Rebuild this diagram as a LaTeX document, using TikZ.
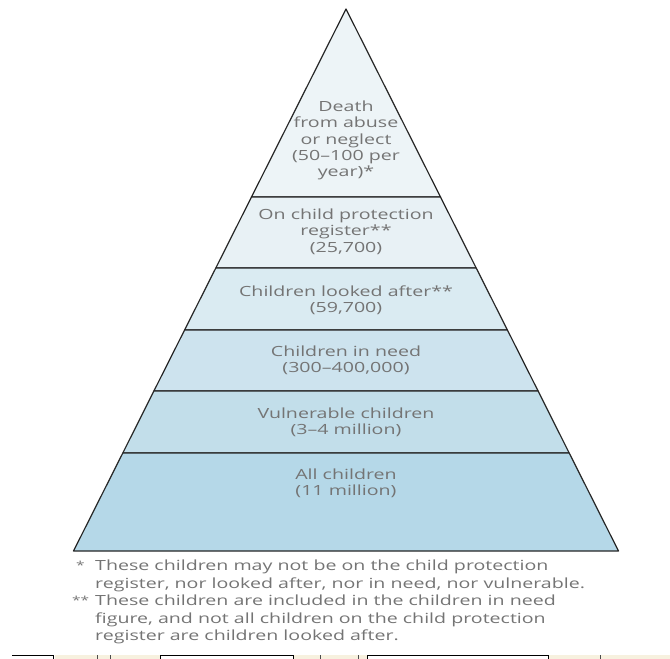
\documentclass[tikz,border=0pt]{standalone}
\usepackage{fontspec}
\setmainfont[FakeStretch=1.4]{Open Sans}
\definecolor{bandA}{HTML}{EDF4F7}
\definecolor{bandB}{HTML}{E8F1F5}
\definecolor{bandC}{HTML}{DAEBF2}
\definecolor{bandD}{HTML}{CDE3EE}
\definecolor{bandE}{HTML}{C2DEEA}
\definecolor{bandF}{HTML}{B5D8E8}
\definecolor{txtgray}{HTML}{747474}
\definecolor{stripbeige}{HTML}{F7F1DF}

\begin{document}
\begin{tikzpicture}[x=1pt,y=-1pt,
        band/.style={draw=black!85,line width=1.2pt,line join=round},
        lbl/.style={text=txtgray,align=center,inner sep=0pt,font=\fontsize{14}{16.4}\selectfont},
        note/.style={text=txtgray,align=left,inner sep=0pt,anchor=north west,font=\fontsize{14}{17.3}\selectfont},
        starmark/.style={note,font=\fontsize{11}{13}\selectfont}]
        \useasboundingbox (0,0) rectangle (670,659);

        \coordinate (A) at (346,9);
        \coordinate (L1) at (251.5,197);
        \coordinate (R1) at (440.5,197);
        \coordinate (L2) at (215.8,268);
        \coordinate (R2) at (476.2,268);
        \coordinate (L3) at (184.6,330);
        \coordinate (R3) at (507.4,330);
        \coordinate (L4) at (153.9,391);
        \coordinate (R4) at (538.1,391);
        \coordinate (L5) at (122.8,453);
        \coordinate (R5) at (569.2,453);
        \coordinate (BL) at (73.5,551);
        \coordinate (BR) at (618.5,551);

        \draw[band,fill=bandA] (A) -- (L1) -- (R1) -- cycle;              % Death
        \draw[band,fill=bandB] (L1) -- (L2) -- (R2) -- (R1) -- cycle;     % Register
        \draw[band,fill=bandC] (L2) -- (L3) -- (R3) -- (R2) -- cycle;     % Looked after
        \draw[band,fill=bandD] (L3) -- (L4) -- (R4) -- (R3) -- cycle;     % In need
        \draw[band,fill=bandE] (L4) -- (L5) -- (R5) -- (R4) -- cycle;     % Vulnerable
        \draw[band,fill=bandF] (L5) -- (BL) -- (BR) -- (R5) -- cycle;     % All children

        \node[lbl] (death) at (346,140.5) {Death\\from abuse\\or neglect\\(50--100 per\\year)*};
        \node[lbl] (register) at (346,231.5) {On child protection\\register**\\(25,700)};
        \node[lbl] (lookedafter) at (346,300.5) {Children looked after**\\(59,700)};
        \node[lbl] (inneed) at (346,360.5) {Children in need\\(300--400,000)};
        \node[lbl] (vulnerable) at (346,422) {Vulnerable children\\(3--4 million)};
        \node[lbl] (allchildren) at (346,483) {All children\\(11 million)};

        \node[starmark] (star1) at (76,561) {*};
        \node[note] (note1) at (95,560) {These children may not be on the child protection\\register, nor looked after, nor in need, nor vulnerable.};
        \node[starmark] (star2) at (72,596) {**};
        \node[note] (note2) at (95,595) {These children are included in the children in need\\figure, and not all children on the child protection\\register are children looked after.};

        % Rand unten
        \fill[stripbeige] (55,655) rectangle (160,659);
        \fill[stripbeige] (293,655) rectangle (367,659);
        \fill[stripbeige] (548,655) rectangle (670,659);
        \draw[black,line width=1pt] (12,655) -- (53,655) -- (53,659);
        \draw[black,line width=1pt] (160,659) -- (160,655) -- (293,655) -- (293,659);
        \draw[black,line width=1pt] (367,659) -- (367,655) -- (548,655) -- (548,659);
        \foreach \x in {97,110,320,358,600} {
            \draw[black!70,line width=0.8pt] (\x,655) -- (\x,659);
        }
\end{tikzpicture}
\end{document}
